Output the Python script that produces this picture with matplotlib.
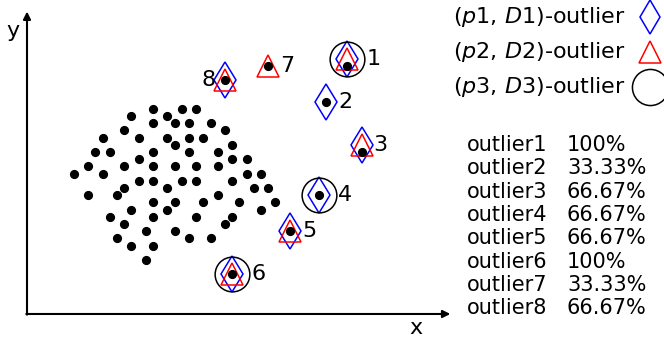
import matplotlib.pyplot as plt

# normal points (grid units, one unit ~ the dot spacing)
cluster_x = [17.5, 21.5, 23.5,
             14.5, 19.5,
             17.5, 20.5, 22.5, 25.5,
             13.5, 27.5,
             10.5, 15.5, 19.5, 22.5, 24.5,
             20.5, 28.5,
             9.5, 11.5, 17.5, 22.5, 26.5,
             15.5, 28.5, 30.5,
             8.5, 13.5, 17.5, 20.5, 23.5, 26.5,
             6.5, 10.5, 30.5, 32.5,
             15.5, 17.5, 21.5, 23.5, 28.5,
             13.5, 19.5, 31.5, 33.5,
             8.5, 12.5, 26.5,
             17.5, 20.5, 24.5, 29.5, 34.5,
             14.5, 19.5, 32.5,
             11.5, 17.5, 23.5, 28.5,
             13.5, 27.5,
             16.5, 20.5,
             12.5, 22.5, 25.5,
             14.5, 17.5,
             16.5]
cluster_y = [28.5] * 3 + [27.5] * 2 + [26.5] * 4 + [25.5] * 2 + [24.5] * 5 + \
            [23.5] * 2 + [22.5] * 5 + [21.5] * 3 + [20.5] * 6 + [19.5] * 4 + \
            [18.5] * 5 + [17.5] * 4 + [16.5] * 3 + [15.5] * 5 + [14.5] * 3 + \
            [13.5] * 4 + [12.5] * 2 + [11.5] * 2 + [10.5] * 3 + [9.5] * 2 + [7.5]

# the eight outliers
outlier_x = [44.5, 41.5, 46.5, 40.5, 36.5, 28.5, 33.5, 27.5]
outlier_y = [34.5, 29.5, 22.5, 16.5, 11.5, 5.5, 34.5, 32.5]
marker_y = [35.4, 29.5, 23.4, 16.5, 11.5, 5.5, 34.5, 32.5]

# which outliers each (p, D) setting finds
found_d1 = [1, 2, 3, 4, 5, 6, 8]
found_d2 = [1, 3, 5, 6, 7, 8]
found_d3 = [1, 4, 6]

legend_labels = [r'($\mathit{p1}$, $\mathit{D1}$)-outlier',
                 r'($\mathit{p2}$, $\mathit{D2}$)-outlier',
                 r'($\mathit{p3}$, $\mathit{D3}$)-outlier']

fig = plt.figure(figsize=(6.64, 3.42), dpi=100)
ax = fig.add_axes([0, 0, 1, 1])
ax.set_xlim(-3.75, 88.47)
ax.set_ylim(-3.89, 43.6)
ax.axis('off')

# axes with arrow heads
arrow = dict(arrowstyle='-|>', lw=1.5, color='black', mutation_scale=11,
             shrinkA=0, shrinkB=0)
ax.annotate('', xy=(0, 42.0), xytext=(0, -0.1), arrowprops=arrow)
ax.annotate('', xy=(58.8, 0), xytext=(-0.1, 0), arrowprops=arrow)
ax.text(54.0, -1.9, 'x', fontsize=16, ha='center', va='center')
ax.text(-2.0, 39.3, 'y', fontsize=16, ha='center', va='center')

ax.plot(cluster_x, cluster_y, 'o', color='black', ms=5.6, ls='none')

d1 = [i - 1 for i in found_d1]
d2 = [i - 1 for i in found_d2]
d3 = [i - 1 for i in found_d3]
ax.plot([outlier_x[i] for i in d1], [marker_y[i] for i in d1], 'd', ms=18,
        mfc='none', mec='blue', mew=1.1, ls='none')
ax.plot([outlier_x[i] for i in d2], [marker_y[i] for i in d2], '^', ms=15.5,
        mfc='none', mec='red', mew=1.1, ls='none')
ax.plot([outlier_x[i] for i in d3], [marker_y[i] for i in d3], 'o', ms=25,
        mfc='none', mec='black', mew=1.1, ls='none')
ax.plot(outlier_x, outlier_y, 'o', color='black', ms=5.6, ls='none', zorder=5)

# number next to each outlier (offset in points)
label_dx = [19, 14, 13, 19, 14, 19, 14, -12]
for i in range(8):
    ax.annotate(str(i + 1), (outlier_x[i], marker_y[i]), xytext=(label_dx[i], 0),
                textcoords='offset points', fontsize=16, ha='center', va='center')

# legend
W, H = 664.0, 342.0
legend_marks = [('d', 17.5, 'blue'), ('^', 15.5, 'red'), ('o', 26, 'black')]
for k, (lab, (m, s, c)) in enumerate(zip(legend_labels, legend_marks)):
    yy = 1 - (17 + 35 * k) / H
    ax.text(453 / W, yy, lab, fontsize=16, ha='left', va='center',
            transform=ax.transAxes)
    ax.plot([650 / W], [yy], m, ms=s, mfc='none', mec=c, mew=1.1,
            transform=ax.transAxes, clip_on=False)

# share of settings that flag each outlier
for i in range(8):
    n = sum((i + 1) in f for f in (found_d1, found_d2, found_d3))
    pct = n / 3 * 100
    txt = f'{pct:.0f}%' if n == 3 else f'{pct:.2f}%'
    yy = 1 - (145 + 23.3 * i) / H
    ax.text(467 / W, yy, f'outlier{i + 1}', fontsize=15, ha='left', va='center',
            transform=ax.transAxes)
    ax.text(567 / W, yy, txt, fontsize=15, ha='left', va='center',
            transform=ax.transAxes)

fig.savefig('out.png', dpi=100)
